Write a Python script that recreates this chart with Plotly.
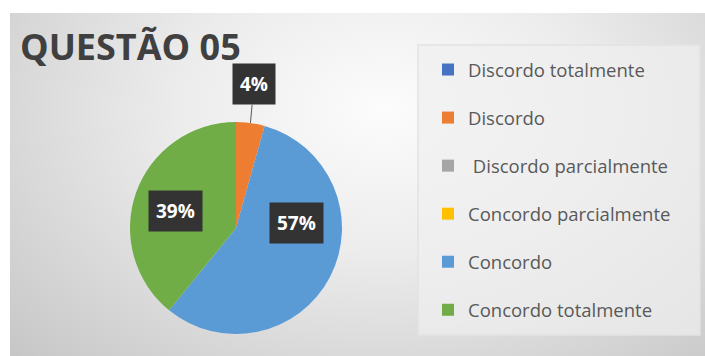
import math
import base64
import plotly.graph_objects as go

# ---------------- data ----------------
categories = ["Discordo totalmente", "Discordo", "Discordo parcialmente",
              "Concordo parcialmente", "Concordo", "Concordo totalmente"]
counts = [0, 1, 0, 0, 13, 9]
colors = ["#4472C4", "#ED7D31", "#A5A5A5", "#FFC000", "#5B9BD5", "#70AD47"]
title_text = "QUESTÃO 05"

# ---------------- layout params ----------------
W, H = 705, 356
CX, CY, R = 236, 228, 106          # pie centre / radius in pixels
# label placement (radius in px, angular nudge in degrees) per category
label_r = [0, 145, 0, 0, 61, 63]
label_da = [0, -0.7, 0, 0, -32, -4]

total = sum(counts)
pcts = [c / total * 100 for c in counts]

fig = go.Figure()

fig.add_trace(go.Pie(
    labels=categories, values=counts, sort=False, direction="clockwise",
    rotation=0, marker=dict(colors=colors, line=dict(width=0)),
    textinfo="none", hoverinfo="label+percent", showlegend=False,
    domain=dict(x=[(CX - R) / W, (CX + R) / W],
                y=[(H - CY - R) / H, (H - CY + R) / H]),
))

# legend entries
for i, (cat, col) in enumerate(zip(categories, colors)):
    name = cat if cat != "Discordo parcialmente" else "\u00a0" + cat
    fig.add_trace(go.Scatter(
        x=[None], y=[None], mode="markers", name=name,
        marker=dict(symbol="square", size=12, color=col),
        legendgroup=str(i), showlegend=True,
    ))

# percentage labels
annotations = []
cum = 0
for i, c in enumerate(counts):
    if c == 0:
        cum += c
        continue
    mid = (cum + c / 2) / total * 360
    cum += c
    ang = math.radians(mid + label_da[i])
    lx = CX + label_r[i] * math.sin(ang)
    ly = CY - label_r[i] * math.cos(ang)
    txt = f"{round(pcts[i])}%"
    common = dict(text=f"<b>{txt}</b>", font=dict(family="Open Sans", size=19, color="white"),
                  bgcolor="#333333", borderpad=7, xref="paper", yref="paper",
                  xanchor="center", yanchor="middle")
    if label_r[i] > R:
        hx = CX + R * math.sin(math.radians(mid))
        hy = CY - R * math.cos(math.radians(mid))
        annotations.append(dict(x=hx / W, y=1 - hy / H, ax=lx - hx, ay=ly - hy,
                                showarrow=True, arrowhead=0, arrowwidth=1,
                                arrowcolor="#595959", standoff=0, **common))
    else:
        annotations.append(dict(x=lx / W, y=1 - ly / H, showarrow=False, **common))

# background (gradient + legend panel) as svg image
svg = f"""<svg xmlns='http://www.w3.org/2000/svg' width='695' height='343' viewBox='0 0 695 343' preserveAspectRatio='none'>
<defs>
<radialGradient id='g' cx='0.54' cy='0.28' r='0.75' gradientTransform='translate(0.54 0.28) scale(1 1.4) translate(-0.54 -0.28)'>
<stop offset='0' stop-color='#fcfcfc'/>
<stop offset='0.4' stop-color='#ececec'/>
<stop offset='1' stop-color='#c6c6c6'/>
</radialGradient>
</defs>
<rect x='0' y='0' width='695' height='343' fill='url(#g)'/>
<rect x='408' y='32' width='282' height='290' fill='#efefef' fill-opacity='0.7' stroke='#e2e2e2' stroke-width='1.5'/>
</svg>"""
src = "data:image/svg+xml;base64," + base64.b64encode(svg.encode()).decode()

fig.update_layout(
    width=W, height=H, autosize=False,
    margin=dict(l=0, r=0, t=0, b=0),
    paper_bgcolor="white", plot_bgcolor="rgba(0,0,0,0)",
    xaxis=dict(visible=False), yaxis=dict(visible=False),
    title=dict(text=f"<b>{title_text}</b>", x=20 / W, xanchor="left",
               y=1 - 47 / H, yanchor="middle",
               font=dict(family="Open Sans", size=36, color="#404040")),
    legend=dict(x=428 / W, y=1 - 51 / H, xanchor="left", yanchor="top",
                bgcolor="rgba(0,0,0,0)", tracegroupgap=21,
                font=dict(family="Open Sans", size=18.5, color="#595959"),
                itemclick=False),
    annotations=annotations,
    images=[dict(source=src, xref="paper", yref="paper", x=10 / W, y=1 - 13 / H,
                 sizex=695 / W, sizey=343 / H, xanchor="left", yanchor="top",
                 sizing="stretch", layer="below")],
)

fig.write_html("out.html", config={"displayModeBar": False},
               post_script="document.body.style.margin='0';")
